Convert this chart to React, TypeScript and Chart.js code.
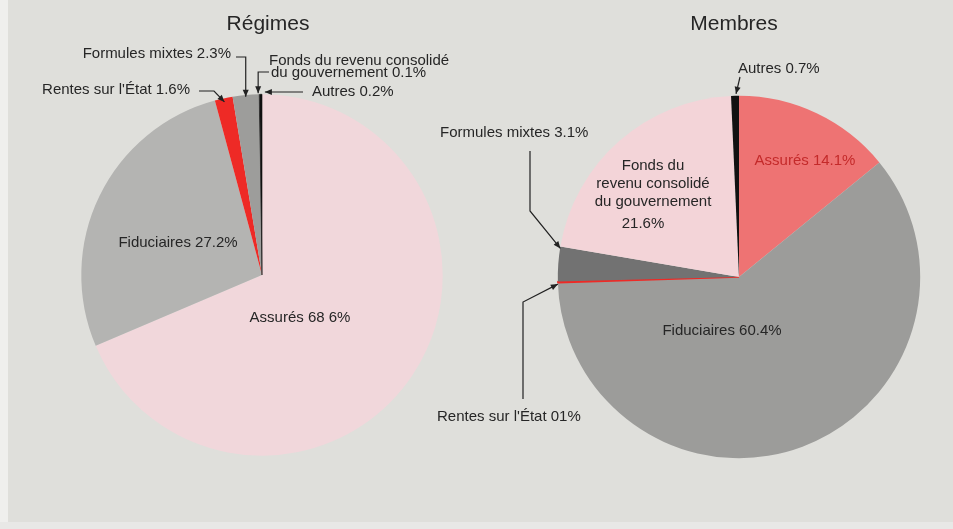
import React, { useEffect, useRef } from "react";
import { Chart, registerables } from "chart.js";
Chart.register(...registerables);

const categories = [
  "Assurés",
  "Fiduciaires",
  "Rentes sur l'État",
  "Formules mixtes",
  "Fonds du revenu consolidé du gouvernement",
  "Autres",
];
const regimesValues = [68.6, 27.2, 1.6, 2.3, 0.1, 0.2];
const membresValues = [14.1, 60.4, 0.1, 3.1, 21.6, 0.7];
const regimesColors = ["#f1d7db", "#b4b4b2", "#ee2a26", "#9d9d9b", "#444444", "#111111"];
const membresColors = ["#ee7373", "#9c9c9a", "#ee2a26", "#727272", "#f3d4d8", "#111111"];
const regimesBorder = [0, 0, 0, 0, 0, 0.6];
const membresBorder = [0, 0, 1.6, 0, 0, 0];

const FONT = '"Liberation Sans", Arial, Helvetica, sans-serif';
const TXT = "#262626";

type Pt = { x: number; y: number };

function arcPt(chart: any, i: number, where: string, rf = 1): Pt {
  const arc = chart.getDatasetMeta(0).data[i] as any;
  const p = arc.getProps(["x", "y", "startAngle", "endAngle", "outerRadius"], true);
  const a = where === "mid" ? (p.startAngle + p.endAngle) / 2 : where === "start" ? p.startAngle : p.endAngle;
  return { x: p.x + Math.cos(a) * p.outerRadius * rf, y: p.y + Math.sin(a) * p.outerRadius * rf };
}

function arrow(ctx: CanvasRenderingContext2D, pts: Pt[]) {
  ctx.save();
  ctx.strokeStyle = "#222";
  ctx.fillStyle = "#222";
  ctx.lineWidth = 1.2;
  ctx.beginPath();
  ctx.moveTo(pts[0].x, pts[0].y);
  for (let i = 1; i < pts.length; i++) ctx.lineTo(pts[i].x, pts[i].y);
  ctx.stroke();
  const a = pts[pts.length - 2];
  const b = pts[pts.length - 1];
  const ang = Math.atan2(b.y - a.y, b.x - a.x);
  const L = 7, W = 3;
  ctx.beginPath();
  ctx.moveTo(b.x, b.y);
  ctx.lineTo(b.x - L * Math.cos(ang) + W * Math.sin(ang), b.y - L * Math.sin(ang) - W * Math.cos(ang));
  ctx.lineTo(b.x - L * Math.cos(ang) - W * Math.sin(ang), b.y - L * Math.sin(ang) + W * Math.cos(ang));
  ctx.closePath();
  ctx.fill();
  ctx.restore();
}

function text(ctx: CanvasRenderingContext2D, s: string, x: number, y: number, align: CanvasTextAlign, size = 15, color = TXT) {
  ctx.save();
  ctx.font = `${size}px ${FONT}`;
  ctx.fillStyle = color;
  ctx.textAlign = align;
  ctx.textBaseline = "middle";
  ctx.fillText(s, x, y);
  ctx.restore();
}

function drawRegimes(chart: any) {
  const ctx = chart.ctx as CanvasRenderingContext2D;
  text(ctx, "Régimes", 268, 24, "center", 21);
  text(ctx, "Formules mixtes 2.3%", 231, 54, "right");
  const pF = arcPt(chart, 3, "mid", 0.99);
  arrow(ctx, [{ x: 236, y: 57 }, { x: pF.x, y: 57 }, pF]);
  text(ctx, "Fonds du revenu consolidé", 269, 61, "left");
  text(ctx, "du gouvernement 0.1%", 271, 73, "left");
  const pD = arcPt(chart, 4, "mid", 1.0);
  arrow(ctx, [{ x: 269, y: 72 }, { x: pD.x - 1, y: 72 }, { x: pD.x - 1, y: pD.y - 1 }]);
  text(ctx, "Rentes sur l'État 1.6%", 190, 90, "right");
  const pR = arcPt(chart, 2, "mid", 0.98);
  arrow(ctx, [{ x: 199, y: 91 }, { x: 214, y: 91 }, pR]);
  text(ctx, "Autres 0.2%", 312, 92, "left");
  const pA = arcPt(chart, 5, "mid", 1.0);
  arrow(ctx, [{ x: 303, y: 92 }, { x: pA.x + 4, y: 92 }]);
  text(ctx, "Fiduciaires 27.2%", 178, 243, "center");
  text(ctx, "Assurés 68 6%", 300, 318, "center");
}

function drawMembres(chart: any) {
  const ctx = chart.ctx as CanvasRenderingContext2D;
  text(ctx, "Membres", 734, 24, "center", 21);
  text(ctx, "Autres 0.7%", 738, 69, "left");
  const pA = arcPt(chart, 5, "mid", 1.0);
  arrow(ctx, [{ x: 740, y: 77 }, { x: pA.x + 1, y: pA.y - 2 }]);
  text(ctx, "Formules mixtes 3.1%", 440, 133, "left");
  const pF = arcPt(chart, 3, "end", 1.0);
  arrow(ctx, [{ x: 530, y: 151 }, { x: 530, y: 211 }, { x: pF.x, y: pF.y + 2 }]);
  text(ctx, "Rentes sur l'État 01%", 437, 417, "left");
  const pR = arcPt(chart, 2, "mid", 1.0);
  arrow(ctx, [{ x: 523, y: 399 }, { x: 523, y: 302 }, { x: pR.x, y: pR.y + 2 }]);
  text(ctx, "Fonds du", 653, 166, "center");
  text(ctx, "revenu consolidé", 653, 184, "center");
  text(ctx, "du gouvernement", 653, 202, "center");
  text(ctx, "21.6%", 643, 224, "center");
  text(ctx, "Assurés 14.1%", 805, 161, "center", 15, "#c42a2a");
  text(ctx, "Fiduciaires 60.4%", 722, 331, "center");
}

function PieChart(props: {
  values: number[]; colors: string[]; borders: number[];
  padding: { left: number; right: number; top: number; bottom: number };
  draw: (c: any) => void;
}) {
  const ref = useRef<HTMLCanvasElement | null>(null);
  useEffect(() => {
    if (!ref.current) return;
    const chart = new Chart(ref.current, {
      type: "pie",
      data: {
        labels: categories,
        datasets: [
          {
            data: props.values,
            backgroundColor: props.colors,
            borderColor: props.colors,
            borderWidth: props.borders,
            hoverOffset: 0,
          } as any,
        ],
      },
      options: {
        animation: false,
        responsive: false,
        maintainAspectRatio: false,
        layout: { padding: props.padding },
        plugins: { legend: { display: false }, tooltip: { enabled: false } },
        events: [],
      },
      plugins: [{ id: "annot", afterDatasetsDraw: (c: any) => props.draw(c) }],
    });
    return () => chart.destroy();
  }, []);
  return (
    <canvas
      ref={ref}
      width={953}
      height={529}
      style={{ position: "absolute", left: 0, top: 0, width: 953, height: 529 }}
    />
  );
}

export default function App() {
  return (
    <div
      style={{
        position: "fixed",
        left: 0,
        top: 0,
        width: 953,
        height: 529,
        background: "#dfdfdb",
        overflow: "hidden",
      }}
    >
      <div style={{ position: "absolute", left: 0, top: 0, width: 8, height: 529, background: "#efefed" }} />
      <div style={{ position: "absolute", left: 0, top: 522, width: 953, height: 7, background: "#e8e8e6" }} />
      <PieChart
        values={regimesValues}
        colors={regimesColors}
        borders={regimesBorder}
        padding={{ left: 81, right: 510, top: 94, bottom: 73 }}
        draw={drawRegimes}
      />
      <PieChart
        values={membresValues}
        colors={membresColors}
        borders={membresBorder}
        padding={{ left: 557, right: 32, top: 95, bottom: 70 }}
        draw={drawMembres}
      />
    </div>
  );
}
